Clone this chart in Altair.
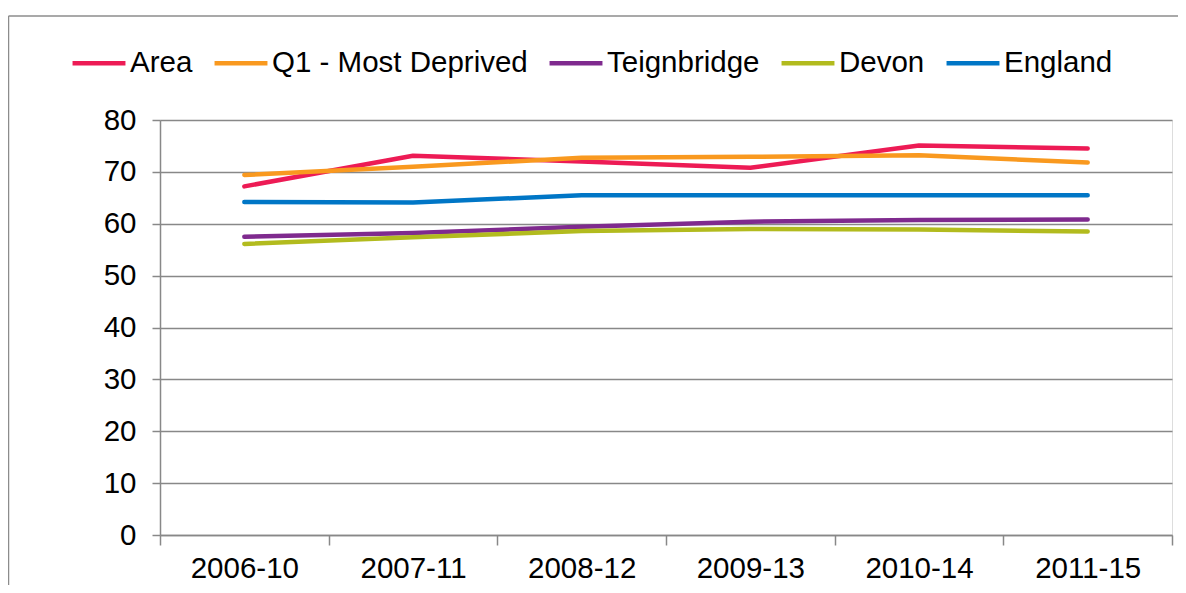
import altair as alt
import pandas as pd

periods = ["2006-10", "2007-11", "2008-12", "2009-13", "2010-14", "2011-15"]
series_names = ["Area", "Q1 - Most Deprived", "Teignbridge", "Devon", "England"]
area = [67.2, 73.1, 72.0, 70.8, 75.1, 74.5]
q1_most_deprived = [69.4, 71.0, 72.7, 72.9, 73.2, 71.8]
teignbridge = [57.5, 58.2, 59.4, 60.4, 60.7, 60.8]
devon = [56.1, 57.4, 58.6, 59.0, 58.9, 58.5]
england = [64.2, 64.1, 65.5, 65.5, 65.5, 65.5]
colors = ["#ED1B55", "#F9991F", "#7F2A8E", "#B2BB1E", "#0076C6"]

values = [area, q1_most_deprived, teignbridge, devon, england]
rows = []
for name, vals in zip(series_names, values):
    for p, v in zip(periods, vals):
        rows.append({"period": p, "series": name, "value": v})
df = pd.DataFrame(rows)

W, H = 1012, 415
FONT = "Liberation Sans"
FS = 29.5

lines = alt.Chart(df).mark_line(strokeWidth=4.5, strokeCap="round", strokeJoin="round").encode(
    x=alt.X("period:N", sort=periods, title=None,
            scale=alt.Scale(type="band", paddingInner=0, paddingOuter=0),
            axis=alt.Axis(labelAngle=0, tickBand="extent", grid=False, tickSize=10,
                          labelPadding=9, domainColor="#888888", tickColor="#888888",
                          domainWidth=1.5, tickWidth=1.5, labelFontSize=FS,
                          labelColor="#000000", labelFont=FONT)),
    y=alt.Y("value:Q", title=None,
            scale=alt.Scale(domain=[0, 80], nice=False, zero=True),
            axis=alt.Axis(values=list(range(0, 81, 10)), tickSize=8, labelPadding=16,
                          domainColor="#888888", tickColor="#888888", gridColor="#888888",
                          gridWidth=1.5, domainWidth=1.5, tickWidth=1.5, labelFontSize=FS,
                          labelColor="#000000", labelFont=FONT)),
    color=alt.Color("series:N", sort=series_names,
                    scale=alt.Scale(domain=series_names, range=colors),
                    legend=alt.Legend(title=None, orient="none", direction="horizontal",
                                      legendX=-90, legendY=-86, symbolType="stroke",
                                      symbolSize=2800, symbolStrokeWidth=4.5,
                                      labelFontSize=FS, labelFont=FONT, labelColor="#000000",
                                      labelLimit=400, labelOffset=2, columnPadding=12)),
)

border_left = alt.Chart(pd.DataFrame({"a": [0]})).mark_rule(color="#8c8c8c", strokeWidth=1.5).encode(
    x=alt.value(-151.5), y=alt.value(-104), y2=alt.value(H + 60))
border_top = alt.Chart(pd.DataFrame({"a": [0]})).mark_rule(color="#8c8c8c", strokeWidth=1.5).encode(
    x=alt.value(-151.5), x2=alt.value(W + 20), y=alt.value(-104))

chart = alt.layer(lines, border_left, border_top).properties(
    width=W, height=H,
    padding={"left": 152, "top": 112, "right": 6, "bottom": 50},
    autosize=alt.AutoSizeParams(type="none"),
).configure_view(stroke=None).configure(font=FONT)

chart.save("out.html", embed_options={"renderer": "svg", "actions": False})
